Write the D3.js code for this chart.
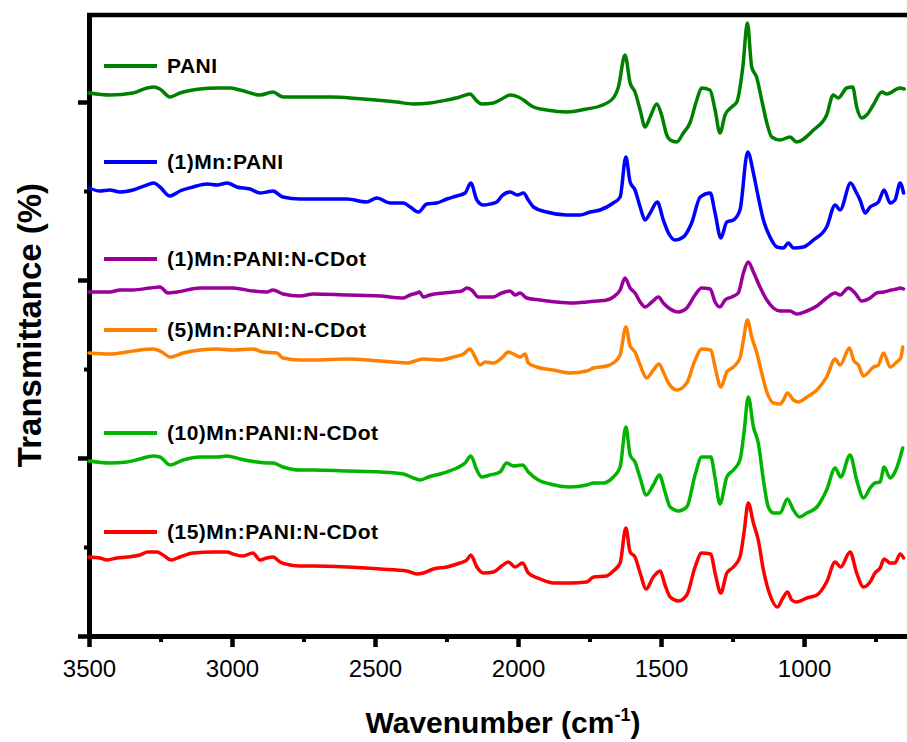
<!DOCTYPE html>
<html lang="en">
<head>
<meta charset="utf-8">
<script src="https://d3js.org/d3.v7.min.js"></script>
<style>
  body { margin: 0; background: #fff; }
  svg { display: block; font-family: "Liberation Sans", Arial, sans-serif; }
</style>
</head>
<body>
<div id="chart"></div>
<script>
// FTIR spectra, [wavenumber (cm-1), transmittance (offset, a.u.)]
var pani = [[3500,541],[3427,539],[3346,541],[3297,546],[3273,547],[3252,545],[3217,537],[3182,541],[3112,545],[3052,546],[3007,546],[2972,544],[2902,539],[2857,542],[2822,537],
  [2774,537],[2657,537],[2541,535],[2424,532],[2366,530],[2308,531],[2249,534],[2203,537],[2168,540],[2144,533],[2127,530],[2086,531],[2057,535],[2028,539],[1999,537],[1981,534],[1946,527],[1900,524],[1830,522],[1760,525],[1713,528],
  [1667,536],[1649,547],[1626,579],[1608,551],[1591,542],[1573,524],[1556,507],[1538,517],[1515,530],[1498,519],[1480,499],[1468,494],[1445,492],[1422,501],[1399,511],[1375,534],[1358,546],[1329,544],[1311,524],[1294,501],[1276,519],[1253,527],[1235,532],[1214,567],[1198,611],[1183,567],[1166,557],[1148,534],[1130,511],[1113,497],[1084,494],[1049,497],[1026,492],[967,504],[921,519],[898,539],[880,536],[851,546],[830,547],[816,527],[798,516],[781,519],[758,529],[728,542],[711,540],[664,546],[650,545]];

var mnPani = [[3500,446],[3462,443],[3427,444],[3392,442],[3346,444],[3297,449],[3273,451],[3252,447],[3217,438],[3182,443],[3136,447],[3087,450],[3052,449],[3017,451],[2983,447],[2937,445],[2902,441],[2878,442],[2857,443],[2822,437],[2762,435],
  [2692,435],[2599,435],[2529,432],[2494,436],[2447,431],[2401,431],[2377,427],[2348,422],[2319,430],[2284,431],[2249,435],[2214,438],[2185,441],[2165,451],[2144,434],[2121,429],[2098,430],[2074,432],[2057,438],[2028,442],[2002,439],[1981,441],[1964,434],[1946,427],[1900,422],[1830,419],[1783,419],[1748,422],[1713,424],
  [1667,431],[1643,437],[1623,477],[1608,452],[1591,444],[1573,427],[1556,414],[1538,421],[1513,432],[1492,414],[1474,401],[1451,394],[1422,397],[1393,411],[1363,437],[1328,441],[1311,421],[1291,396],[1270,412],[1247,414],[1224,424],[1197,482],[1177,461],[1165,444],[1142,414],[1119,397],[1095,387],[1072,386],[1055,391],[1037,386],[1002,387],[967,394],[921,407],[891,429],[874,424],[837,451],[818,442],[804,434],[786,421],[769,427],[740,432],[720,444],[699,431],[682,434],[664,451],[652,441]];

var mn1Cdot = [[3500,342],[3427,342],[3392,344],[3346,344],[3287,346],[3252,347],[3224,341],[3192,342],[3112,346],[2997,346],[2927,343],[2878,342],[2857,344],[2822,340],[2762,338],
  [2716,340],[2599,339],[2482,338],[2401,336],[2377,339],[2354,341],[2345,342],[2331,337],[2308,339],[2261,341],[2226,342],[2197,343],[2179,346],[2162,344],[2139,337],[2109,337],[2086,337],[2057,341],[2028,343],[2010,339],[1993,341],[1970,336],[1923,334],[1865,332],[1806,331],[1760,332],
  [1725,333],[1690,334],[1667,337],[1643,344],[1626,356],[1608,346],[1591,341],[1573,332],[1556,327],[1532,332],[1509,337],[1492,331],[1468,325],[1439,322],[1410,326],[1381,339],[1358,346],[1328,345],[1311,332],[1294,327],[1276,334],[1253,337],[1230,341],[1212,361],[1195,372],[1177,362],[1154,347],[1130,334],[1107,326],[1084,323],[1049,323],[1026,320],[990,323],[955,328],[921,336],[891,341],[874,339],[845,346],[822,341],[798,333],[769,336],[746,341],[722,342],[693,344],[676,345],[664,346],[652,345]];

var mn5Cdot = [[3500,281],[3427,280],[3367,282],[3322,284],[3276,285],[3245,282],[3217,277],[3171,281],[3112,284],[3052,285],[2997,284],[2927,285],[2892,282],[2843,281],[2822,276],[2762,274],
  [2716,274],[2599,275],[2482,273],[2389,271],[2331,275],[2273,274],[2226,277],[2191,280],[2168,285],[2150,277],[2133,269],[2115,272],[2086,271],[2057,276],[2034,282],[2016,280],[1993,277],[1975,280],[1964,271],[1935,267],[1876,264],[1818,261],[1760,263],
  [1736,266],[1690,268],[1667,271],[1643,279],[1623,307],[1608,288],[1591,282],[1573,269],[1550,256],[1527,264],[1507,270],[1492,262],[1474,251],[1445,244],[1410,251],[1381,274],[1358,285],[1326,284],[1311,267],[1291,247],[1270,262],[1247,267],[1224,276],[1212,294],[1198,314],[1183,297],[1165,281],[1148,261],[1130,242],[1107,231],[1084,230],[1072,234],[1058,241],[1037,234],[1020,232],[990,237],[955,244],[921,257],[891,275],[874,269],[841,286],[827,274],[810,269],[792,258],[757,267],[740,269],[722,281],[699,267],[676,272],[662,276],[655,287]];

var mn10Cdot = [[3500,173],[3427,171],[3367,172],[3322,175],[3276,178],[3252,177],[3217,169],[3171,174],[3112,177],[3052,177],[3017,178],[2972,175],[2913,172],[2878,171],[2857,171],[2822,167],[2762,164],
  [2716,164],[2599,163],[2482,162],[2401,160],[2366,156],[2343,154],[2313,157],[2261,161],[2214,166],[2185,171],[2165,178],[2144,164],[2127,157],[2098,159],[2063,162],[2040,171],[2016,168],[1984,169],[1964,162],[1929,154],[1888,150],[1818,147],[1760,149],
  [1736,151],[1701,151],[1667,157],[1643,167],[1623,207],[1608,179],[1591,172],[1573,156],[1552,139],[1527,149],[1506,159],[1486,142],[1468,127],[1439,123],[1410,127],[1381,159],[1358,177],[1326,177],[1311,156],[1294,130],[1270,157],[1247,164],[1224,174],[1210,201],[1195,237],[1177,207],[1160,191],[1142,154],[1125,127],[1107,121],[1084,121],[1058,135],[1037,124],[1016,117],[990,121],[955,127],[921,144],[891,166],[872,157],[839,179],[816,154],[792,136],[769,146],[752,151],[734,152],[720,167],[699,156],[676,166],[655,186]];

var mn15Cdot = [[3500,77],[3462,76],[3437,74],[3402,76],[3367,77],[3322,79],[3294,82],[3262,82],[3241,79],[3213,74],[3182,77],[3136,81],[3066,82],[3017,82],[2997,80],[2962,78],[2927,81],[2902,74],[2878,76],[2857,77],[2832,72],[2797,69],[2762,68],
  [2716,68],[2599,67],[2482,65],[2389,63],[2354,60],[2331,61],[2296,65],[2249,67],[2203,71],[2179,74],[2165,79],[2144,67],[2121,61],[2086,62],[2057,68],[2034,72],[2010,67],[1984,71],[1964,61],[1923,55],[1876,51],[1818,51],[1760,52],
  [1736,57],[1690,58],[1667,63],[1643,71],[1623,106],[1608,82],[1591,77],[1573,61],[1552,45],[1527,57],[1503,63],[1486,49],[1468,37],[1439,33],[1410,39],[1381,67],[1358,81],[1326,80],[1311,61],[1291,41],[1270,61],[1247,67],[1224,77],[1210,101],[1195,131],[1177,111],[1160,94],[1142,64],[1119,39],[1093,27],[1074,36],[1058,42],[1043,34],[1026,32],[990,36],[955,39],[921,52],[891,72],[872,67],[839,82],[816,61],[792,47],[769,52],[752,61],[734,66],[720,75],[699,71],[682,71],[664,80],[652,76]];

var seriesNames = ["PANI", "(1)Mn:PANI", "(1)Mn:PANI:N-CDot", "(5)Mn:PANI:N-CDot", "(10)Mn:PANI:N-CDot", "(15)Mn:PANI:N-CDot"];
var seriesData = [pani, mnPani, mn1Cdot, mn5Cdot, mn10Cdot, mn15Cdot];
var colors = ["#008000", "#0000ff", "#990099", "#ff8000", "#00b400", "#ff0000"];

var xMajor = [3500, 3000, 2500, 2000, 1500, 1000];
var xMinor = [3250, 2750, 2250, 1750, 1250, 750];
var yMajor = [-2, 176, 354, 532];
var yMinor = [87, 265, 443];

// layout
var W = 907, H = 742;
var legendY = [66, 162, 259, 330, 433, 532];

var svg = d3.select("#chart").append("svg")
    .attr("width", W)
    .attr("height", H);

var x = d3.scaleLinear().domain([3500, 640]).range([89, 907]);
var y = d3.scaleLinear().domain([-2, 619]).range([636, 15]);

// minor ticks first, major axes on top
svg.append("g")
    .attr("transform", "translate(0,636)")
    .call(d3.axisBottom(x).tickValues(xMinor).tickSize(6).tickSizeOuter(0).tickFormat(""))
    .call(function(g) { g.select(".domain").remove(); g.selectAll("line").attr("stroke-width", 4); });

svg.append("g")
    .attr("transform", "translate(89,0)")
    .call(d3.axisLeft(y).tickValues(yMinor).tickSize(5).tickSizeOuter(0).tickFormat(""))
    .call(function(g) { g.select(".domain").remove(); g.selectAll("line").attr("stroke-width", 4); });

var xAxis = svg.append("g")
    .attr("transform", "translate(0,636)")
    .call(d3.axisBottom(x).tickValues(xMajor).tickSize(11).tickSizeOuter(0).tickPadding(13).tickFormat(d3.format("d")));
xAxis.select(".domain").attr("stroke-width", 5);
xAxis.selectAll("line").attr("stroke-width", 4.5);
xAxis.selectAll("text").attr("font-size", 24).attr("fill", "#000");

var yAxis = svg.append("g")
    .attr("transform", "translate(89,0)")
    .call(d3.axisLeft(y).tickValues(yMajor).tickSize(11).tickSizeOuter(0).tickFormat(""));
yAxis.select(".domain").attr("stroke-width", 5);
yAxis.selectAll("line").attr("stroke-width", 4.5);

// top frame line
svg.append("line")
    .attr("x1", 87).attr("x2", W)
    .attr("y1", y(619)).attr("y2", y(619))
    .attr("stroke", "#000").attr("stroke-width", 4.5);

// spectra
var line = d3.line()
    .x(function(d) { return x(d[0]); })
    .y(function(d) { return y(d[1]); })
    .curve(d3.curveMonotoneX);

svg.selectAll(".spec")
    .data(seriesData)
    .enter().append("path")
    .attr("class", "spec")
    .attr("d", line)
    .attr("fill", "none")
    .attr("stroke", function(d, i) { return colors[i]; })
    .attr("stroke-width", 3.5)
    .attr("stroke-linejoin", "round")
    .attr("stroke-linecap", "round");

// legend
var leg = svg.selectAll(".leg")
    .data(seriesNames)
    .enter().append("g")
    .attr("class", "leg")
    .attr("transform", function(d, i) { return "translate(104," + legendY[i] + ")"; });

leg.append("line")
    .attr("x1", 0).attr("x2", 53)
    .attr("stroke", function(d, i) { return colors[i]; })
    .attr("stroke-width", 4);

leg.append("text")
    .attr("x", 63).attr("y", 7)
    .attr("font-size", 21)
    .attr("font-weight", "bold")
    .attr("letter-spacing", 0.5)
    .text(function(d) { return d; });

// axis titles
var xt = svg.append("text")
    .attr("x", 503).attr("y", 733)
    .attr("text-anchor", "middle")
    .attr("font-size", 30)
    .attr("font-weight", "bold");
xt.append("tspan").text("Wavenumber (cm");
xt.append("tspan").attr("font-size", 18).attr("dy", -12).text("-1");
xt.append("tspan").attr("dy", 12).text(")");

svg.append("text")
    .attr("transform", "translate(41,325) rotate(-90)")
    .attr("text-anchor", "middle")
    .attr("font-size", 33)
    .attr("font-weight", "bold")
    .text("Transmittance (%)");
</script>
</body>
</html>
